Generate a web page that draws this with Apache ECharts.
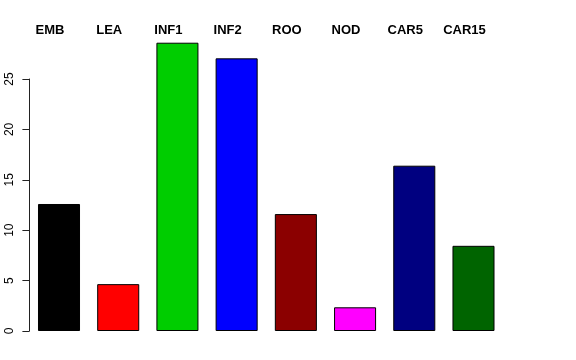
<!DOCTYPE html>
<html>
<head>
<meta charset="utf-8">
<script src="https://cdn.jsdelivr.net/npm/echarts@6/dist/echarts.min.js"></script>
<style>html,body{margin:0;padding:0;background:#fff}#c{width:576px;height:360px}</style>
</head>
<body>
<div id="c"></div>
<script>
const categories = ["EMB", "LEA", "INF1", "INF2", "ROO", "NOD", "CAR5", "CAR15"];
const values = [12.6, 4.65, 28.6, 27.05, 11.6, 2.35, 16.4, 8.45];
const colors = ["#000000", "#FF0000", "#00CD00", "#0000FF", "#8B0000", "#FF00FF", "#000080", "#006400"];
const yTicks = [0, 5, 10, 15, 20, 25];

const chart = echarts.init(document.getElementById('c'), null, {renderer: 'canvas'});
chart.setOption({
  animation: false,
  backgroundColor: '#ffffff',
  grid: {left: 29.4, right: 72.9, top: 79, bottom: 29, containLabel: false},
  xAxis: {
    type: 'category',
    position: 'top',
    data: categories,
    axisLine: {show: false},
    axisTick: {show: false},
    axisLabel: {
      margin: 42,
      color: '#000',
      fontFamily: 'Liberation Sans, Arial, sans-serif',
      fontWeight: 'bold',
      fontSize: 13,
      padding: [0, 18, 0, 0],
      interval: 0
    }
  },
  yAxis: {
    type: 'value',
    min: yTicks[0],
    max: yTicks[yTicks.length - 1],
    interval: 5,
    splitLine: {show: false},
    axisLine: {show: true, lineStyle: {color: '#222', width: 1}},
    axisTick: {show: true, length: 7, lineStyle: {color: '#222', width: 1}},
    axisLabel: {
      rotate: 90,
      margin: 14,
      color: '#000',
      fontFamily: 'Liberation Sans, Arial, sans-serif',
      fontSize: 12
    }
  },
  series: [{
    type: 'bar',
    clip: false,
    barCategoryGap: '29%',
    data: values.map((v, i) => ({value: v, itemStyle: {color: colors[i]}})),
    itemStyle: {borderColor: '#000', borderWidth: 1}
  }]
});
</script>
</body>
</html>
